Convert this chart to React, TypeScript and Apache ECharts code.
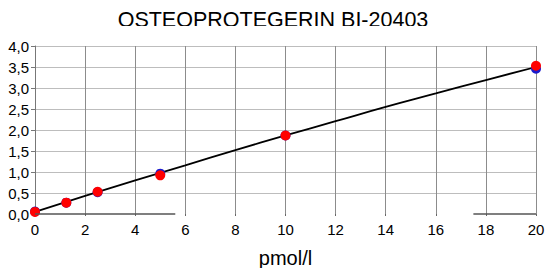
import React, { useEffect, useRef } from "react";
import * as echarts from "echarts";

const titleText = "OSTEOPROTEGERIN BI-20403";
const xAxisName = "pmol/l";

// standards (pmol/l) and measured signals
const standardsX = [0, 1.25, 2.5, 5, 10, 20];
const redValues = [0.05, 0.27, 0.53, 0.92, 1.87, 3.53];
const blueValues = [0.06, 0.27, 0.52, 0.96, 1.87, 3.46];

// fitted curve
const fitX = [0, 2, 4, 6, 8, 10, 12, 14, 16, 18, 20];
const fitY = [0.05, 0.43, 0.8, 1.16, 1.52, 1.87, 2.21, 2.55, 2.87, 3.19, 3.5];

// visible pieces of the x axis line (in data units)
const axisLinePieces = [
  [0, 5.6],
  [17.5, 20],
];

const FONT = "'Liberation Sans', Arial, sans-serif";

export default function App() {
  const ref = useRef<HTMLDivElement>(null);
  useEffect(() => {
    if (!ref.current) return;
    const chart = echarts.init(ref.current, null, { renderer: "svg" });
    chart.setOption({
      animation: false,
      backgroundColor: "#ffffff",
      textStyle: { fontFamily: FONT },
      title: {
        text: titleText,
        left: "center",
        top: 9,
        padding: 0,
        textStyle: {
          fontFamily: FONT,
          fontSize: 21.5,
          fontWeight: "normal",
          color: "#000",
          lineHeight: 21,
        },
      },
      graphic: [
        {
          type: "rect",
          shape: { x: 90, y: 26, width: 380, height: 18 },
          style: { fill: "#ffffff" },
          z: 100,
        },
      ],
      grid: {
        left: 35,
        right: 10,
        top: 46,
        bottom: 54,
        containLabel: false,
        outerBoundsMode: "none",
      },
      xAxis: {
        type: "value",
        min: 0,
        max: 20,
        interval: 2,
        name: xAxisName,
        nameLocation: "middle",
        nameGap: 34,
        nameTextStyle: { fontFamily: FONT, fontSize: 20, color: "#000" },
        axisLine: { show: false },
        axisTick: { show: true, length: 2, lineStyle: { color: "#666" } },
        axisLabel: { fontFamily: FONT, fontSize: 15, color: "#000", margin: 8 },
        splitLine: { show: true, lineStyle: { color: "#8c8c8c", width: 1 } },
      },
      yAxis: {
        type: "value",
        min: 0,
        max: 4,
        interval: 0.5,
        axisLine: { show: true, lineStyle: { color: "#777", width: 1 } },
        axisTick: { show: true, length: 4, lineStyle: { color: "#777" } },
        axisLabel: {
          fontFamily: FONT,
          fontSize: 15,
          color: "#000",
          margin: 6,
          formatter: (v: number) => v.toFixed(1).replace(".", ","),
        },
        splitLine: {
          show: true,
          showMinLine: false,
          lineStyle: { color: "#bdbdbd", width: 1 },
        },
      },
      series: [
        {
          type: "line",
          data: fitX.map((x, i) => [x, fitY[i]]),
          smooth: true,
          symbol: "none",
          lineStyle: { color: "#000", width: 1.8 },
          z: 2,
          markLine: {
            silent: true,
            symbol: "none",
            label: { show: false },
            lineStyle: { color: "#555", width: 1.5, type: "solid" },
            data: axisLinePieces.map((p) => [
              { coord: [p[0], 0] },
              { coord: [p[1], 0] },
            ]),
          },
        },
        {
          type: "scatter",
          data: standardsX.map((x, i) => [x, blueValues[i]]),
          symbol: "circle",
          symbolSize: 10,
          itemStyle: { color: "#1a1acc", opacity: 1 },
          z: 3,
        },
        {
          type: "scatter",
          data: standardsX.map((x, i) => [x, redValues[i]]),
          symbol: "circle",
          symbolSize: 10,
          itemStyle: { color: "#ff0000", opacity: 1 },
          z: 4,
        },
      ],
    });
    return () => chart.dispose();
  }, []);
  return (
    <div
      ref={ref}
      style={{ position: "fixed", left: 0, top: 0, width: 546, height: 268 }}
    />
  );
}
